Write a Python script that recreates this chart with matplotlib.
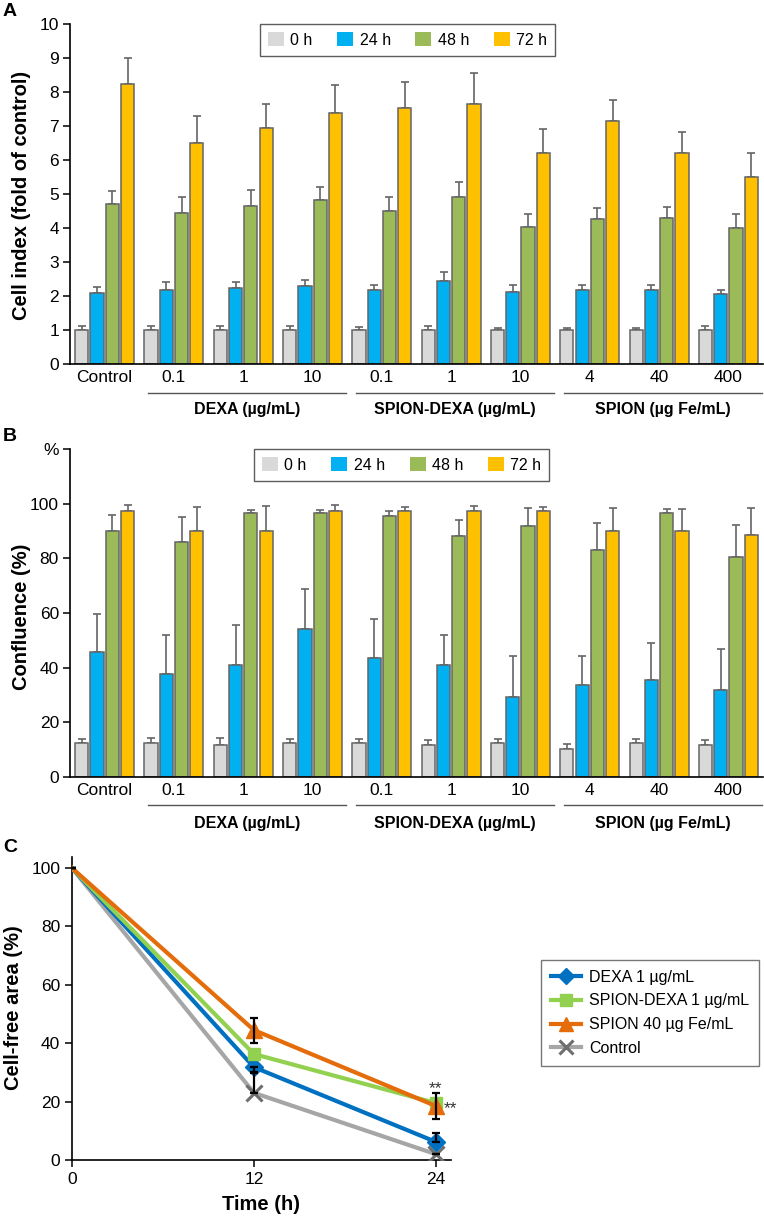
import matplotlib
matplotlib.use('Agg')
import matplotlib.pyplot as plt
import numpy as np

plt.rcParams['font.family'] = ['Liberation Sans', 'DejaVu Sans']

# ---------------- data ----------------
categories = ['Control', '0.1', '1', '10', '0.1', '1', '10', '4', '40', '400']
group_names = ['DEXA (µg/mL)', 'SPION-DEXA (µg/mL)', 'SPION (µg Fe/mL)']
group_spans = [(1, 4), (4, 7), (7, 10)]
times = ['0 h', '24 h', '48 h', '72 h']

# Panel A: cell index (fold of control)
ci_0h = [1.0, 1.0, 1.0, 1.0, 1.0, 1.0, 1.0, 1.0, 1.0, 1.0]
ci_0h_err = [0.12, 0.12, 0.12, 0.12, 0.10, 0.12, 0.07, 0.07, 0.05, 0.12]
ci_24h = [2.09, 2.18, 2.25, 2.29, 2.18, 2.44, 2.13, 2.18, 2.18, 2.06]
ci_24h_err = [0.17, 0.22, 0.15, 0.18, 0.15, 0.26, 0.19, 0.14, 0.14, 0.12]
ci_48h = [4.70, 4.43, 4.66, 4.82, 4.50, 4.90, 4.04, 4.27, 4.30, 4.00]
ci_48h_err = [0.40, 0.47, 0.46, 0.38, 0.40, 0.45, 0.37, 0.33, 0.33, 0.40]
ci_72h = [8.23, 6.49, 6.95, 7.38, 7.53, 7.65, 6.22, 7.14, 6.22, 5.51]
ci_72h_err = [0.77, 0.81, 0.71, 0.82, 0.77, 0.90, 0.68, 0.62, 0.61, 0.71]

# Panel B: confluence (%)
cf_0h = [12.4, 12.4, 11.7, 12.4, 12.4, 11.7, 12.4, 10.2, 12.4, 11.7]
cf_0h_err = [1.5, 1.8, 2.5, 1.6, 1.5, 1.8, 1.6, 1.8, 1.5, 1.8]
cf_24h = [45.6, 37.6, 40.9, 54.0, 43.4, 40.9, 29.2, 33.5, 35.4, 32.0]
cf_24h_err = [14.2, 14.2, 14.6, 14.6, 14.5, 10.9, 15.0, 10.7, 13.5, 15.0]
cf_48h = [90.1, 85.8, 96.7, 96.7, 95.4, 88.0, 92.0, 83.2, 96.7, 80.5]
cf_48h_err = [5.9, 9.2, 1.1, 1.1, 2.0, 6.2, 6.3, 9.9, 1.2, 11.7]
cf_72h = [97.4, 90.1, 90.1, 97.4, 97.4, 97.4, 97.4, 90.1, 90.1, 88.7]
cf_72h_err = [2.2, 8.8, 8.9, 2.1, 1.2, 1.6, 1.2, 8.2, 8.0, 9.8]

# Panel C: cell-free area (%)
time_h = [0, 12, 24]
dexa_1 = [100, 31.8, 6.2]
dexa_1_err_lo = [0, 2.0, 0]
dexa_1_err_hi = [0, 0, 3.0]
spion_dexa_1 = [100, 36.3, 19.5]
spion_40 = [100, 44.5, 18.5]
spion_40_err = [0, 4.3, 4.5]
control = [100, 23.0, 2.0]
control_err_hi = [0, 7.0, 0]

bar_colors = ['#D9D9D9', '#00B0F0', '#9BBB59', '#FFC000']
edge = '#656565'
TICK_FS = 12.5

W, H = 764, 1219
fig = plt.figure(figsize=(W / 100, H / 100), dpi=100)


def ax_rect(l, t, r, b):
    return [l / W, 1 - b / H, (r - l) / W, (b - t) / H]


def bar_panel(ax, series, errs, ylim, yticks, yticklabels, line_y, lab_y, legend_left):
    x = np.arange(len(categories)) + 0.5
    offs = [-0.33, -0.11, 0.11, 0.33]
    for s, e, c, o, lab in zip(series, errs, bar_colors, offs, times):
        ax.bar(x + o, s, width=0.19, color=c, edgecolor=edge, linewidth=1.1,
               label=lab, zorder=2)
        ax.errorbar(x + o, s, yerr=[np.zeros(len(s)), e], fmt='none',
                    ecolor=edge, elinewidth=1.2, capsize=3, capthick=1.2, zorder=1)
    ax.set_xlim(0, 10)
    ax.set_ylim(*ylim)
    ax.set_yticks(yticks)
    ax.set_yticklabels(yticklabels)
    ax.set_xticks(x)
    ax.set_xticklabels(categories)
    ax.tick_params(axis='x', length=0, pad=4, labelsize=TICK_FS)
    ax.tick_params(axis='y', length=5, width=1.1, labelsize=TICK_FS, pad=3)
    for sp in ['top', 'right']:
        ax.spines[sp].set_visible(False)
    for sp in ['left', 'bottom']:
        ax.spines[sp].set_linewidth(1.2)
    tr = ax.get_xaxis_transform()
    for name, (a, b) in zip(group_names, group_spans):
        ax.plot([a + 0.13, b - 0.02], [line_y, line_y], color='#555555',
                linewidth=1.0, transform=tr, clip_on=False)
        ax.text((a + 0.13 + b - 0.02) / 2, lab_y, name, transform=tr,
                ha='center', va='center', fontsize=11.5, fontweight='bold')
    leg = ax.legend(loc='upper left', bbox_to_anchor=(legend_left, 1.0), ncol=4,
                    frameon=True, fancybox=False, edgecolor='#333333',
                    fontsize=11.5, handlelength=1.0, handleheight=1.0,
                    handletextpad=0.4, columnspacing=1.55, borderpad=0.5,
                    borderaxespad=0)
    leg.get_frame().set_linewidth(1.0)
    for h in leg.legend_handles:
        h.set_edgecolor('none')


# Panel A
axA = fig.add_axes(ax_rect(70, 24, 763, 364))
bar_panel(axA, [ci_0h, ci_24h, ci_48h, ci_72h],
          [ci_0h_err, ci_24h_err, ci_48h_err, ci_72h_err],
          (0, 10), range(0, 11), [str(v) for v in range(0, 11)],
          -0.085, -0.135, 0.274)

# Panel B
axB = fig.add_axes(ax_rect(70, 449, 763, 777))
bar_panel(axB, [cf_0h, cf_24h, cf_48h, cf_72h],
          [cf_0h_err, cf_24h_err, cf_48h_err, cf_72h_err],
          (0, 120), range(0, 121, 20), ['0', '20', '40', '60', '80', '100', '%'],
          -0.085, -0.143, 0.2655)

# Panel C
axC = fig.add_axes(ax_rect(72, 857, 451, 1160))
lw = 3.0
mk = [1, 2]
axC.plot(time_h, control, color='#A6A6A6', lw=lw, marker='x', ms=11,
         mec='#6E6E6E', mew=2.2, markevery=mk, label='Control', zorder=3)
axC.plot(time_h, dexa_1, color='#0070C0', lw=lw, marker='D', ms=9,
         mec='#0070C0', markevery=mk, label='DEXA 1 µg/mL', zorder=4)
axC.plot(time_h, spion_dexa_1, color='#92D050', lw=lw, marker='s', ms=9,
         mec='#92D050', markevery=mk, label='SPION-DEXA 1 µg/mL', zorder=5)
axC.plot(time_h, spion_40, color='#E46C0A', lw=lw, marker='^', ms=11,
         mec='#E46C0A', markevery=mk, label='SPION 40 µg Fe/mL', zorder=6)
ekw = dict(fmt='none', ecolor='black', elinewidth=1.6, capsize=3.2, capthick=1.6, zorder=7)
axC.errorbar(time_h, spion_40, yerr=spion_40_err, **ekw)
axC.errorbar(time_h, dexa_1, yerr=[dexa_1_err_lo, dexa_1_err_hi], **ekw)
axC.errorbar(time_h, control, yerr=[np.zeros(3), control_err_hi], **ekw)
axC.text(24, 24.5, '**', ha='center', va='center', fontsize=12.5, color='#333333')
axC.text(24.55, 17.5, '**', ha='left', va='center', fontsize=12.5, color='#333333')
axC.set_xlim(0, 25)
axC.set_ylim(0, 103.8)
axC.set_xticks([0, 12, 24])
axC.set_yticks(range(0, 101, 20))
axC.tick_params(axis='both', length=5, width=1.1, labelsize=TICK_FS)
for sp in ['top', 'right']:
    axC.spines[sp].set_visible(False)
for sp in ['left', 'bottom']:
    axC.spines[sp].set_linewidth(1.2)
axC.set_xlabel('Time (h)', fontsize=14.5, fontweight='bold', labelpad=6)

handles, labels = axC.get_legend_handles_labels()
order = [1, 2, 3, 0]
legC = fig.legend([handles[i] for i in order], [labels[i] for i in order],
                  loc='upper left', bbox_to_anchor=(533 / W, 1 - 952 / H),
                  frameon=True, fancybox=False, edgecolor='#555555',
                  fontsize=11.5, handlelength=1.9, handletextpad=0.5,
                  labelspacing=0.55, borderpad=0.6, markerscale=0.9)
legC.get_frame().set_linewidth(1.0)

# y labels and panel letters
fig.text(22 / W, 1 - 195 / H, 'Cell index (fold of control)', rotation=90,
         ha='center', va='center', fontsize=14.5, fontweight='bold')
fig.text(22 / W, 1 - 617 / H, 'Confluence (%)', rotation=90,
         ha='center', va='center', fontsize=14.5, fontweight='bold')
fig.text(14 / W, 1 - 1008 / H, 'Cell-free area (%)', rotation=90,
         ha='center', va='center', fontsize=14.5, fontweight='bold')
fig.text(10 / W, 1 - 12 / H, 'A', ha='center', va='center', fontsize=14, fontweight='bold')
fig.text(10 / W, 1 - 437 / H, 'B', ha='center', va='center', fontsize=14, fontweight='bold')
fig.text(10 / W, 1 - 848 / H, 'C', ha='center', va='center', fontsize=14, fontweight='bold')

fig.savefig('out.png', dpi=100)
